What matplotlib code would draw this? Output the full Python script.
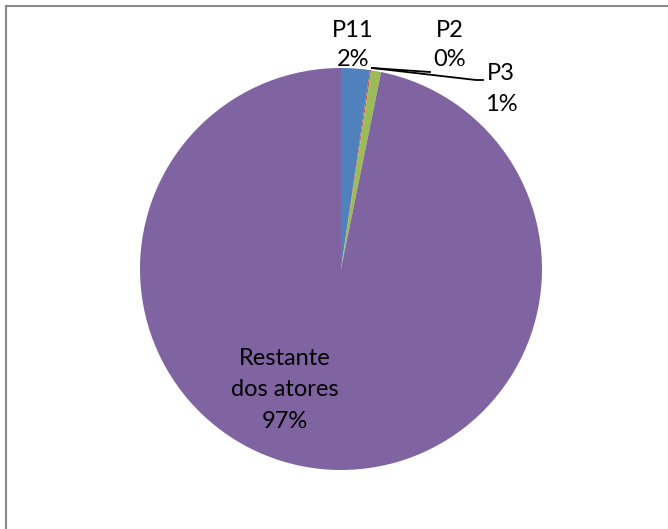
import matplotlib
matplotlib.use("Agg")
import matplotlib.pyplot as plt

# fatias do gráfico (percentagens)
nomes = ["P11", "P2", "P3", "Restante\ndos atores"]
valores = [2.3, 0.1, 0.8, 96.8]
cores = ["#4F81BD", "#C0504D", "#9BBB59", "#8064A2"]

plt.rcParams['font.family'] = ['Lato', 'DejaVu Sans']

W, H = 668, 529
fig = plt.figure(figsize=(W / 100, H / 100), dpi=100)

# pie centrada em (341, 269) px, raio 201 px
cx, cy, r = 341, 269, 201
ax = fig.add_axes([(cx - r) / W, (H - cy - r) / H, 2 * r / W, 2 * r / H])
ax.pie(valores, colors=cores, startangle=90, counterclock=False,
       radius=1, wedgeprops=dict(linewidth=0))
ax.set_xlim(-1, 1)
ax.set_ylim(-1, 1)
ax.set_aspect('equal')
ax.axis('off')


def px(x, y):
    return (x - cx) / r, (cy - y) / r


total = sum(valores)
textos = [f"{n}\n{round(v / total * 100):.0f}%" for n, v in zip(nomes, valores)]
posicoes = [(353, 45), (450, 45), (501, 89), (285, 390)]
espacos = [1.45, 1.45, 1.6, 1.6]
for t, (x, y), ls in zip(textos, posicoes, espacos):
    ax.text(*px(x, y), t, ha='center', va='center', fontsize=17,
            color='black', linespacing=ls)

# linhas de ligação
x0, y0 = px(372, 68)
x1, y1 = px(430, 72)
ax.plot([x0, x1], [y0, y1], color='black', lw=1.3, clip_on=False)
x2, y2 = px(476, 80)
x3, y3 = px(483, 80)
ax.plot([x0, x2, x3], [y0, y2, y3], color='black', lw=1.3, clip_on=False)

# moldura (apenas esquerda e topo visíveis)
fig.add_artist(plt.Line2D([5.5 / W, 5.5 / W], [0, 1 - 5.5 / H], color='#898989',
                          lw=1.5, transform=fig.transFigure))
fig.add_artist(plt.Line2D([5.5 / W, 1], [1 - 5.5 / H, 1 - 5.5 / H], color='#898989',
                          lw=1.5, transform=fig.transFigure))

fig.savefig("out.png", dpi=100)
